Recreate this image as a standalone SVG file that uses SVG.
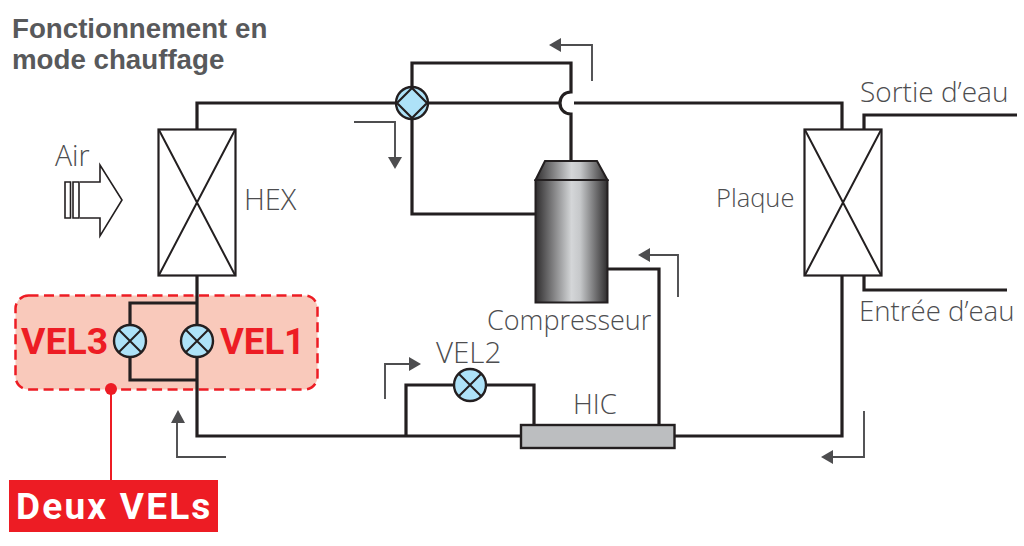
<svg xmlns="http://www.w3.org/2000/svg" width="1024" height="546" viewBox="0 0 1024 546">
<style>
.pipe{fill:none;stroke:#231f20;stroke-width:3.2}
.hex{fill:#fff;stroke:#231f20;stroke-width:2.2}
.x{fill:none;stroke:#231f20;stroke-width:2}
.flow{fill:none;stroke:#4d4d4f;stroke-width:1.9}
.head{fill:#4d4d4f}
.valve{fill:#aee2f8;stroke:#231f20;stroke-width:2.4}
.lbl{font-family:"Open Sans","Noto Sans","Liberation Sans",sans-serif;font-size:27.5px;fill:#4d4d4f;font-weight:300}
.red{font-family:"Roboto","Liberation Sans",sans-serif;font-size:36.500px;font-weight:700;fill:#ed1c24}
</style>
<defs>
<linearGradient id="metal" x1="0" x2="1" y1="0" y2="0">
<stop offset="0" stop-color="#2f2d2e"/><stop offset="0.5" stop-color="#d4d6d8"/><stop offset="0.62" stop-color="#c6c8ca"/><stop offset="1" stop-color="#2f2d2e"/>
</linearGradient>
</defs>
<rect width="1024" height="546" fill="#fff"/>
<g id="title"><text font-family="'Liberation Sans',Arial,sans-serif" font-size="27.700" font-weight="700" fill="#58595b"><tspan x="12" y="38">Fonctionnement en</tspan><tspan x="12" y="69">mode chauffage</tspan></text></g>
<g id="zone"><rect x="15.500" y="295.500" width="302" height="94" rx="13" fill="#f9c9bb" stroke="#ed1c24" stroke-width="2.500" stroke-dasharray="10 5.500"/></g>
<g id="connectors">
<path class="pipe" d="M197 129V103H560"/>
<path class="pipe" d="M574 103H842V129"/>
<path class="pipe" d="M412 103V63H571V92C564 92 560 97 560 103C560 109 564 114 571 114V160"/>
<path class="pipe" d="M412 103V214H535"/>
<path class="pipe" d="M864 129V115H1017"/>
<path class="pipe" d="M864 276V290H1007"/>
<path class="pipe" d="M197 276V436H521"/>
<path class="pipe" d="M197 303H130V380H197"/>
<path class="pipe" d="M675 436H842V276"/>
<path class="pipe" d="M406 436V385H534V424"/>
<path class="pipe" d="M608 269H659V424"/>
<path d="M111 389V480" fill="none" stroke="#ed1c24" stroke-width="2"/>
<circle cx="111" cy="389" r="6" fill="#ed1c24"/>
</g>
<g id="flow-arrows">
<path class="flow" d="M592 81V45H560"/><path class="head" d="M549 45L561 38V52Z"/>
<path class="flow" d="M354 122H395V158"/><path class="head" d="M388 157H402L395 169Z"/>
<path class="flow" d="M678 297V255H648"/><path class="head" d="M638 255L650 248V262Z"/>
<path class="flow" d="M385 399V364H410"/><path class="head" d="M421 364L409 357V371Z"/>
<path class="flow" d="M226 457H177V423"/><path class="head" d="M171 423H185L178 410Z"/>
<path class="flow" d="M864 411V457H832"/><path class="head" d="M821 457L833 450V464Z"/>
</g>
<g id="air-arrow">
<path d="M65 182H70.500V218H65Z M73 182H79V218H73Z" fill="#fff" stroke="#231f20" stroke-width="1.600"/>
<path d="M80 182H100V165L122 200L100 236V218H80" fill="#fff" stroke="#231f20" stroke-width="1.600"/>
<text class="lbl" x="55" y="166" style="font-size:28.500px">Air</text>
</g>
<g id="hex"><rect class="hex" x="158.500" y="129.500" width="77" height="146"/><path class="x" d="M159 130L235 275M235 130L159 275"/><text class="lbl" x="244" y="210" style="font-size:29px">HEX</text></g>
<g id="plaque"><rect class="hex" x="804.500" y="129.500" width="77" height="146"/><path class="x" d="M805 130L881 275M881 130L805 275"/><text class="lbl" x="716" y="207" style="font-size:25.500px">Plaque</text></g>
<g id="four-way-valve"><circle class="valve" cx="412" cy="103" r="16"/><path d="M412 88L427 103L412 118L397 103Z" fill="#aee2f8" stroke="#231f20" stroke-width="2.200"/></g>
<g id="compressor">
<path d="M535.500 180L545 161H597L607.500 180Z" fill="url(#metal)" stroke="#231f20" stroke-width="2"/>
<rect x="535.500" y="180" width="72" height="122.500" fill="url(#metal)" stroke="#231f20" stroke-width="2"/>
<text class="lbl" x="487" y="330" style="font-size:27px">Compresseur</text>
</g>
<g id="vel3"><circle class="valve" cx="130" cy="341" r="16"/><path class="x" d="M119 330L141 352M141 330L119 352"/><text class="red" x="21" y="354" style="font-size:37.400px">VEL3</text></g>
<g id="vel1"><circle class="valve" cx="197" cy="341" r="16"/><path class="x" d="M186 330L208 352M208 330L186 352"/><text class="red" x="220" y="354">VEL1</text></g>
<g id="vel2"><circle class="valve" cx="470" cy="385" r="16"/><path class="x" d="M459 374L481 396M481 374L459 396"/><text class="lbl" x="436" y="363" style="font-size:29.500px">VEL2</text></g>
<g id="hic"><rect x="521" y="425" width="153.500" height="23" fill="#bcbec0" stroke="#231f20" stroke-width="2.400"/><text class="lbl" x="573" y="414">HIC</text></g>
<g id="sortie"><text class="lbl" x="860" y="102" style="font-size:28px">Sortie d’eau</text></g>
<g id="entree"><text class="lbl" x="859" y="321" style="font-size:27.600px">Entrée d’eau</text></g>
<g id="deux-vels"><rect x="9" y="480" width="209" height="52" fill="#ed1c24"/><text x="16" y="519" font-family="Roboto,'Liberation Sans',sans-serif" font-size="37" font-weight="700" fill="#fff" letter-spacing="2.200">Deux VELs</text></g>
</svg>
